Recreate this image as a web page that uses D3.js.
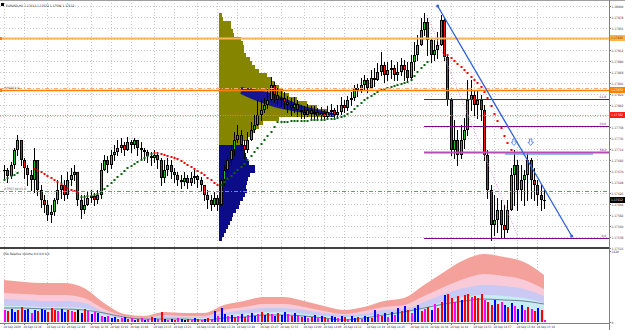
<!DOCTYPE html>
<html>
<head>
<meta charset="utf-8">
<script src="https://cdn.jsdelivr.net/npm/d3@7"></script>
<style>
  body { margin: 0; background: #fff; }
  svg { display: block; font-family: "DejaVu Sans Condensed", "DejaVu Sans", sans-serif; }
  .axis path, .axis line { stroke: #808080; shape-rendering: crispEdges; }
  .axis text { fill: #333; }
</style>
</head>
<body>
<script>
// ---- data (prices in points, 1 point = 0.00001) ----
const symbol = "EURUSD,M1";
const firstOpen = 117670;

const closes = [
  117672,117660,117682,117712,117732,117692,117676,117662,117652,117692,
  117632,117612,117602,117582,117588,117612,117632,117642,117622,117652,
  117662,117668,117612,117592,117602,117616,117620,117612,117622,117672,
  117692,117682,117702,117708,117716,117722,117712,117728,117722,117732,
  117716,117712,117708,117700,117696,117702,117692,117656,117672,117682,
  117668,117662,117652,117648,117656,117646,117656,117660,117652,117642,
  117622,117612,117602,117616,117602,117652,117672,117692,117712,117732,
  117742,117722,117712,117732,117752,117762,117782,117792,117802,117812,
  117842,117822,117812,117816,117808,117802,117796,117804,117792,117788,
  117782,117792,117784,117788,117780,117786,117778,117788,117792,117782,
  117788,117802,117796,117812,117816,117836,117832,117842,117852,117836,
  117856,117852,117868,117882,117862,117872,117876,117862,117868,117882,
  117872,117856,117888,117902,117922,117952,117968,117932,117902,117912,
  117922,117972,117898,117812,117712,117732,117702,117732,117752,117812,
  117822,117802,117812,117792,117702,117632,117562,117572,117592,117562,
  117552,117592,117662,117682,117632,117652,117662,117692,117652,117642,117622,117612,117612
];
const highs = [
  117682,117676,117688,117716,117742,117732,117696,117682,117672,117716,
  117692,117642,117622,117612,117602,117616,117652,117662,117652,117668,
  117676,117682,117668,117622,117622,117628,117632,117626,117632,117686,
  117702,117700,117712,117722,117732,117736,117728,117738,117732,117736,
  117732,117728,117716,117712,117708,117712,117706,117696,117692,117696,
  117692,117676,117668,117662,117668,117662,117668,117672,117662,117658,
  117642,117632,117622,117628,117622,117656,117682,117702,117722,117748,
  117762,117752,117732,117748,117768,117782,117812,117812,117816,117836,
  117858,117848,117836,117832,117828,117820,117816,117818,117812,117802,
  117800,117804,117800,117800,117796,117798,117792,117800,117804,117796,
  117802,117818,117812,117820,117828,117842,117844,117856,117862,117856,
  117872,117876,117886,117908,117888,117888,117892,117882,117888,117896,
  117892,117888,117902,117928,117942,117976,117986,117976,117936,117932,
  117948,117982,117976,117902,117816,117772,117752,117762,117776,117852,
  117852,117832,117832,117822,117802,117712,117642,117622,117616,117612,
  117602,117612,117676,117712,117692,117682,117672,117708,117696,117676,117652,117642,117632
];
const lows = [
  117652,117648,117656,117676,117702,117682,117656,117642,117632,117628,
  117622,117598,117588,117572,117568,117582,117606,117616,117612,117616,
  117642,117652,117602,117576,117586,117602,117608,117602,117606,117616,
  117682,117668,117676,117692,117702,117708,117702,117712,117708,117716,
  117702,117696,117692,117688,117682,117688,117676,117642,117648,117662,
  117656,117648,117642,117636,117642,117636,117642,117646,117638,117632,
  117612,117596,117592,117600,117592,117602,117642,117662,117682,117702,
  117728,117712,117696,117708,117732,117748,117762,117772,117788,117796,
  117812,117808,117802,117800,117796,117788,117782,117788,117780,117776,
  117776,117780,117776,117776,117776,117776,117776,117776,117780,117776,
  117776,117784,117788,117792,117802,117812,117820,117828,117832,117828,
  117836,117840,117852,117862,117848,117852,117856,117852,117852,117862,
  117852,117848,117856,117872,117892,117922,117942,117902,117888,117892,
  117896,117922,117892,117802,117702,117696,117682,117696,117716,117742,
  117792,117782,117776,117772,117692,117616,117532,117542,117548,117538,
  117536,117548,117612,117602,117592,117612,117602,117612,117616,117612,117602,117592,117596
];

// parabolic SAR segments: first bar, side, values
const sarStarts = [0, 9, 23, 45, 65, 133];
const sarSides = ["up", "down", "up", "down", "up", "down"];
const sarValues = [
  [117652,117656,117660,117662,117666],
  [117674,117672,117668,117664,117660,117656,117652,117648,117644,117640,117636,117632,117630,117628],
  [117618,117618,117620,117620,117622,117624,117628,117634,117640,117646,117652,117658,117664,117670,117676,117680,117684,117688,117692,117696,117700,117704],
  [117706,117706,117704,117702,117700,117698,117696,117694,117690,117686,117682,117678,117674,117670,117666,117662,117656,117652,117646,117642],
  [117642,117648,117654,117660,117666,117672,117678,117684,117692,117700,117708,117716,117724,117732,117740,117748,117758,117768,
   117768,117768,117768,117770,117770,117770,117770,117770,117770,117772,117772,117772,117772,117772,117774,117774,117774,117776,117778,
   117780,117784,117788,117794,117800,117806,117812,117816,117820,117824,117828,117832,
   117834,117836,117838,117840,117842,117844,117846,117848,117852,117860,117868,117876,117882,117888],
  [117902,117896,117890,117884,117878,117872,117866,117858,117852,117846,117838,117828,117816,117800,117784,117770,117756,117740,117726,117712]
];

// volume profile (bin tops in points, volumes)
const profileBar = 64.5;
const profileBin = 8;
const oliveTops = [117986,117978,117970,117962,117954,117946,117938,117930,117922,117914,117906,117898,117890,117882,117874,117866,117858,
  117850,117842,117834,117826,117818,117810,117802,117794,117786,117778,117770,117762,117754,117746,117738,117730,117722];
const oliveVol = [30,40,120,120,140,150,220,240,250,250,270,310,330,360,400,480,530,560,600,640,700,780,880,980,1080,1140,600,440,400,360,320,280,240,200];
const navyTops = [117722,117714,117706,117698,117690,117682,117674,117666,117658,117650,117642,117634,117626,117618,117610,117602,
  117594,117586,117578,117570,117562,117554,117546,117538];
const navyVol = [240,260,270,280,300,360,360,310,290,280,270,280,260,240,210,200,170,140,130,110,90,70,50,30];
const wedgeBars = [71, 80, 90, 99];
const wedgeUpper = [117838, 117826, 117800, 117786];
const wedgeLower = [117824, 117800, 117786, 117778];

// horizontal levels
const levelPrices = [117936, 117836, 117832, 117782, 117630];
const levelNames = ["", "", "#H4D24 &", "", "#TPQT pd H1 R"];
const fibHigh = 117986, fibLow = 117536, fibStartBar = 126;
const fibLevels = [0, 38.2, 50, 61.8];
const trendBars = [130.1, 170.3], trendPrices = [118000, 117540];
const dotLineBars = [126.9, 154.2], dotLinePrices = [117982, 117538];
const rayBars = [150.3, 176.7], rayPrice = 117704;
const arrowBars = [153, 158], arrowPrice = 117722;

// axes
const priceTicks = [118000,117978,117956,117934,117912,117890,117868,117846,117824,117802,117780,117758,117736,117714,
  117692,117670,117648,117626,117604,117582,117560,117538,117516];
const timeTickBars = [0,6,13,19,26,32,38,45,51,58,64,70,77,83,90,96,102,109,115,122,128,134,141,147,154,160];
const timeLabels = ["28 Sep 2020","28 Sep 12:36","28 Sep 12:43","28 Sep 12:49","28 Sep 12:56","28 Sep 13:02","28 Sep 13:08",
  "28 Sep 13:15","28 Sep 13:21","28 Sep 13:28","28 Sep 13:34","28 Sep 13:40","28 Sep 13:47","28 Sep 13:53","28 Sep 14:00",
  "28 Sep 14:06","28 Sep 14:12","28 Sep 14:19","28 Sep 14:25","28 Sep 14:32","28 Sep 14:38","28 Sep 14:44","28 Sep 14:51",
  "28 Sep 14:57","28 Sep 15:04","28 Sep 15:10"];

// volume panel
const volumes = [
  240,220,260,200,240,300,240,260,180,240, 220,260,240,200,280,240,220,260,200,240,
  220,200,240,180,260,220,160,200,180,120, 100,120,80,100,60,80,100,60,80,40,
  60,80,40,60,100,80,60,200,60,40, 60,40,80,60,40,60,40,80,60,40,
  60,80,60,220,120,280,160,120,140,100, 120,160,100,140,180,120,160,200,140,180,
  160,120,180,140,200,160,120,180,140,100, 120,80,100,140,80,120,100,60,120,100,
  80,120,100,60,120,80,100,60,120,100, 80,240,160,120,180,100,200,140,280,220,
  320,240,180,280,340,220,260,300,240,360, 280,400,540,560,480,400,520,440,540,560,
  500,520,480,560,440,400,340,440,360,400, 340,300,380,320,260,340,240,300,260,220, 280,240,40
];
const volColors = "mrbbrrbbmbrbbrrrmbbrmrkbrmbmbmbmbbrmbrmbrmbmrbmrbmbrmbkrmbrmbrmbmbbmbrmbrmbbmrbrmbrbbmrbmrbmrbmbrmbbmbrmbbrmbbrbmrbmbmbrbrmbbrmrbmrrbrrmrbrrmrrrmrrbrmbrbmbbmrmrbrm";
const bandBars = [0,6,12,18,24,30,36,42,48,54,60,66,72,78,84,90,96,102,108,114,120,126,132,138,144,150,156,162];
const bandSalmon = [840,800,780,780,680,380,160,120,200,180,180,340,420,500,500,420,320,240,300,420,480,740,1000,1240,1360,1300,1200,940];
const bandPink = [580,560,540,540,480,260,120,80,140,120,120,240,300,360,360,300,220,160,220,300,340,520,700,860,960,920,840,660];
const bandLavender = [460,440,420,420,380,200,80,60,120,100,100,180,240,280,280,240,180,140,160,240,260,400,560,680,740,720,660,520];
const bandCyan = [320,320,300,300,280,160,60,40,80,80,80,140,160,200,200,160,120,100,120,160,200,300,400,500,540,520,480,380];
const volumeMA = [280,280,260,260,240,180,100,60,60,60,40,80,100,140,140,120,80,40,80,140,200,280,360,420,460,440,420,360];

// ---- layout ----
const W = 625, H = 330;
const plotRight = 609;
const mainTop = 2, mainBottom = 247, subTop = 249, subBottom = 322;
const fs = 3.2;
const fmt = v => (v / 1e5).toFixed(5);

const x = d3.scaleLinear().domain([0, closes.length - 1]).range([4, 544]);
const y = d3.scaleLinear().domain([117518, 118006]).range([247, 3]);
const vy = d3.scaleLinear().domain([0, 1420]).range([subBottom, 251]);
const pw = d3.scaleLinear().domain([0, 1000]).range([0, 100]);

const svg = d3.select("body").append("svg").attr("width", W).attr("height", H);
svg.append("rect").attr("width", W).attr("height", H).attr("fill", "#fff");

const defs = svg.append("defs");
defs.append("clipPath").attr("id", "clipMain").append("rect")
  .attr("x", 0).attr("y", mainTop).attr("width", plotRight).attr("height", mainBottom - mainTop);
defs.append("clipPath").attr("id", "clipSub").append("rect")
  .attr("x", 0).attr("y", subTop).attr("width", plotRight).attr("height", subBottom - subTop);

const main = svg.append("g").attr("clip-path", "url(#clipMain)");
const sub = svg.append("g").attr("clip-path", "url(#clipSub)");

// grid
main.selectAll(".hgrid").data(priceTicks).enter().append("line")
  .attr("x1", 0).attr("x2", plotRight).attr("y1", d => Math.round(y(d)) + 0.5).attr("y2", d => Math.round(y(d)) + 0.5)
  .attr("stroke", "#c8c8c8").attr("stroke-dasharray", "1,2");
[main, sub].forEach(g => {
  g.selectAll(".vgrid").data(timeTickBars).enter().append("line")
    .attr("x1", d => Math.round(x(d)) + 0.5).attr("x2", d => Math.round(x(d)) + 0.5)
    .attr("y1", 0).attr("y2", H)
    .attr("stroke", "#c8c8c8").attr("stroke-dasharray", "1,2");
});

// volume profile
const px0 = Math.round(x(profileBar));
main.selectAll(".olive").data(oliveTops).enter().append("rect")
  .attr("x", px0).attr("y", d => y(d)).attr("width", (d, i) => pw(oliveVol[i]))
  .attr("height", d => y(d - profileBin) - y(d)).attr("fill", "#858500").attr("shape-rendering", "crispEdges");
main.selectAll(".navy").data(navyTops).enter().append("rect")
  .attr("x", px0).attr("y", d => y(d)).attr("width", (d, i) => pw(navyVol[i]))
  .attr("height", d => y(d - profileBin) - y(d)).attr("fill", "#0c0c88").attr("shape-rendering", "crispEdges");
const wedge = d3.area().curve(d3.curveMonotoneX)
  .x(d => x(d)).y0((d, i) => y(wedgeLower[i])).y1((d, i) => y(wedgeUpper[i]));
main.append("path").datum(wedgeBars).attr("d", wedge).attr("fill", "#16168f");

// candles
const candles = closes.map((c, i) => {
  const o = i === 0 ? firstOpen : closes[i - 1];
  return { i, o, c, h: Math.max(highs[i], o, c), l: Math.min(lows[i], o, c) };
});
const cg = main.append("g").attr("shape-rendering", "crispEdges");
candles.forEach(d => {
  const cx = Math.round(x(d.i));
  cg.append("line").attr("x1", cx + 0.5).attr("x2", cx + 0.5)
    .attr("y1", Math.round(y(d.h))).attr("y2", Math.round(y(d.l)) + 1).attr("stroke", "#000");
  const top = Math.round(y(Math.max(d.o, d.c)));
  const hgt = Math.max(1, Math.round(y(Math.min(d.o, d.c))) - top);
  cg.append("rect").attr("x", cx - 1).attr("y", top).attr("width", 3).attr("height", hgt).attr("fill", "#000");
  if (hgt > 2 && d.c !== d.o) {
    cg.append("rect").attr("x", cx).attr("y", top + 1).attr("width", 1).attr("height", hgt - 2)
      .attr("fill", d.c > d.o ? "#1fc41f" : "#ff1010");
  }
});

// parabolic SAR
sarStarts.forEach((s, k) => {
  main.selectAll(null).data(sarValues[k]).enter().append("rect")
    .attr("x", (d, j) => Math.round(x(s + j)) - 0.5).attr("y", d => Math.round(y(d)) - 1)
    .attr("width", 2).attr("height", 2)
    .attr("fill", sarSides[k] === "up" ? "#0a640a" : "#ff0000");
});

// horizontal levels
const levelStyles = [
  { color: "#ffb45a", width: 2.2, dash: null },
  { color: "#ffa878", width: 1, dash: "4,2,1,2" },
  { color: "#ff8000", width: 1.4, dash: null },
  { color: "#ff7070", width: 1, dash: "1,1.5" },
  { color: "#5fa55f", width: 1, dash: "4,2,1,2" }
];
levelPrices.forEach((p, i) => {
  const st = levelStyles[i];
  const ly = Math.round(y(p)) + 0.5;
  main.append("line").attr("x1", 0).attr("x2", plotRight).attr("y1", ly).attr("y2", ly)
    .attr("stroke", st.color).attr("stroke-width", st.width).attr("stroke-dasharray", st.dash);
  if (levelNames[i]) {
    main.append("text").attr("x", 4).attr("y", ly - 2).attr("font-size", fs).attr("fill", "#555").text(levelNames[i]);
  }
});
[levelPrices[0], levelPrices[2]].forEach(p => {
  main.append("rect").attr("x", 0).attr("y", Math.round(y(p)) - 1).attr("width", 2).attr("height", 3).attr("fill", "#ff8000");
});

// fibonacci
fibLevels.forEach(lv => {
  const p = fibLow + (fibHigh - fibLow) * lv / 100;
  const ly = Math.round(y(p)) + 0.5;
  const strong = lv === 38.2;
  main.append("line").attr("x1", x(fibStartBar)).attr("x2", plotRight).attr("y1", ly).attr("y2", ly)
    .attr("stroke", strong ? "#b44cb4" : "#7c0a7c").attr("stroke-width", strong ? 2 : 1.2);
  main.append("text").attr("x", 606).attr("y", ly - 1.5).attr("text-anchor", "end")
    .attr("font-size", fs).attr("fill", "#7c0a7c").text(lv.toFixed(1));
});

// light blue ray
main.append("line").attr("x1", x(rayBars[0])).attr("x2", x(rayBars[1]))
  .attr("y1", y(rayPrice)).attr("y2", y(rayPrice)).attr("stroke", "#6f9de9").attr("stroke-width", 1.6);

// dotted pink line
main.append("line").attr("x1", x(dotLineBars[0])).attr("y1", y(dotLinePrices[0]))
  .attr("x2", x(dotLineBars[1])).attr("y2", y(dotLinePrices[1]))
  .attr("stroke", "#e09ae0").attr("stroke-width", 1).attr("stroke-dasharray", "1,1.5");

// blue trend line
main.append("line").attr("x1", x(trendBars[0])).attr("y1", y(trendPrices[0]))
  .attr("x2", x(trendBars[1])).attr("y2", y(trendPrices[1]))
  .attr("stroke", "#2d62dc").attr("stroke-width", 1.3);
trendBars.forEach((b, i) => {
  main.append("circle").attr("cx", x(b)).attr("cy", y(trendPrices[i])).attr("r", 1.5).attr("fill", "#2d62dc");
});

// arrows
arrowBars.forEach(b => {
  const ax = x(b), ay = y(arrowPrice);
  main.append("path")
    .attr("d", `M${ax - 1.2},${ay - 6}h2.4v3.2h1.6l-2.8,3.3l-2.8,-3.3h1.6z`)
    .attr("fill", "#fff").attr("stroke", "#5a86e6").attr("stroke-width", 0.9);
});

// title
svg.append("rect").attr("x", 1).attr("y", 3).attr("width", 3).attr("height", 3).attr("fill", "#000");
const last = candles[candles.length - 1];
svg.append("text").attr("x", 6).attr("y", 6.5).attr("font-size", fs).attr("fill", "#222")
  .text(`${symbol}  ${fmt(last.o)} ${fmt(last.h)} ${fmt(last.l)} ${fmt(last.c)}`);

// ---- volume panel ----
const band = vals => d3.area().curve(d3.curveMonotoneX)
  .x(d => x(d)).y0(vy(0)).y1((d, i) => vy(vals[i]));
[[bandSalmon, "#f3a19a"], [bandPink, "#f9cbd9"], [bandLavender, "#c9c9f3"], [bandCyan, "#c6ecf5"]].forEach(([vals, col]) => {
  sub.append("path").datum(bandBars).attr("d", band(vals)).attr("fill", col);
});
sub.append("path").datum(bandBars)
  .attr("d", d3.line().curve(d3.curveMonotoneX).x(d => x(d)).y((d, i) => vy(volumeMA[i])))
  .attr("fill", "none").attr("stroke", "#6f8090").attr("stroke-width", 1);
const volFill = { b: "#0000ff", r: "#ff0000", m: "#ff00ff", k: "#000000" };
sub.selectAll(".vol").data(volumes).enter().append("rect")
  .attr("x", (d, i) => Math.round(x(i)) - 0.5).attr("y", d => Math.round(vy(d)))
  .attr("width", 2).attr("height", d => vy(0) - Math.round(vy(d)))
  .attr("fill", (d, i) => volFill[volColors[i]]).attr("shape-rendering", "crispEdges");
svg.append("text").attr("x", 3).attr("y", 254.5).attr("font-size", fs).attr("fill", "#222")
  .text("VSA Relative Volume 0.0 0.0 0.0");

// frames
svg.append("line").attr("x1", 0).attr("x2", W).attr("y1", 0.5).attr("y2", 0.5).attr("stroke", "#a0a0a0");
svg.append("line").attr("x1", 0).attr("x2", plotRight + 1).attr("y1", 248).attr("y2", 248)
  .attr("stroke", "#000").attr("stroke-width", 1.6);

// price axis
const pAxis = svg.append("g").attr("class", "axis").attr("transform", `translate(${plotRight + 0.5},0)`)
  .call(d3.axisRight(y).tickValues(priceTicks).tickSize(1.5).tickPadding(0.5).tickFormat(fmt));
pAxis.select(".domain").attr("d", `M0,0V${H}`);
pAxis.selectAll("text").attr("font-size", fs).attr("font-family", "DejaVu Sans Condensed");

// price boxes on the axis
const boxes = [
  { p: levelPrices[0], fill: "#ffb347", text: "#5a3000" },
  { p: levelPrices[2], fill: "#ff8000", text: "#fff" },
  { p: levelPrices[3], fill: "#ff1a1a", text: "#fff" },
  { p: last.c, fill: "#000", text: "#fff" }
];
boxes.forEach(b => {
  const by = y(b.p);
  svg.append("rect").attr("x", plotRight + 1).attr("y", by - 3).attr("width", W - plotRight - 1).attr("height", 6).attr("fill", b.fill);
  svg.append("text").attr("x", plotRight + 2).attr("y", by + 1.2).attr("font-size", fs).attr("fill", b.text).text(fmt(b.p));
});

// volume axis
const vAxis = svg.append("g").attr("class", "axis").attr("transform", `translate(${plotRight + 0.5},0)`)
  .call(d3.axisRight(vy).tickValues([0, 1420]).tickSize(1.5).tickPadding(0.5).tickFormat(d3.format("d")));
vAxis.select(".domain").remove();
vAxis.selectAll("text").attr("font-size", fs).attr("font-family", "DejaVu Sans Condensed");

// time axis
const tAxis = svg.append("g").attr("class", "axis").attr("transform", `translate(0,${subBottom + 1})`)
  .call(d3.axisBottom(x).tickValues(timeTickBars).tickSize(2).tickPadding(1)
    .tickFormat((d, i) => timeLabels[i]));
tAxis.select(".domain").attr("d", `M0,0H${plotRight + 1}`).attr("stroke", "#000");
tAxis.selectAll("text").attr("font-size", 3.0).attr("font-family", "DejaVu Sans Condensed")
  .attr("text-anchor", "start").attr("dx", -1);
</script>
</body>
</html>
